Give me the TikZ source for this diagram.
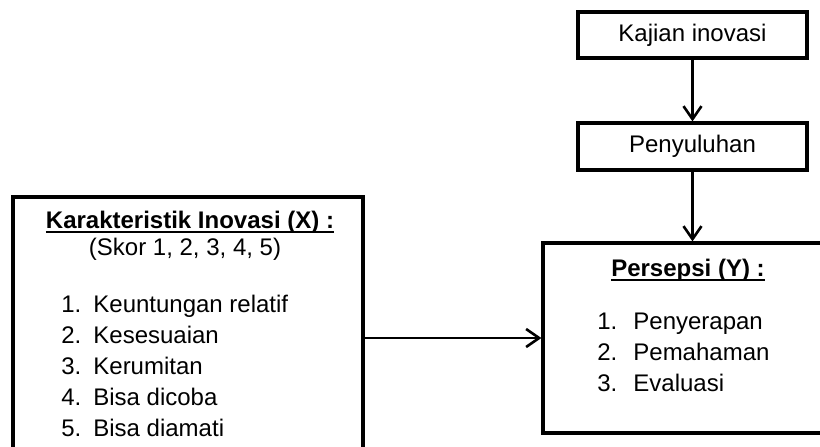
\documentclass[tikz,border=0pt]{standalone}
\usepackage{fontspec}
\setmainfont{Liberation Sans}
\usetikzlibrary{arrows.meta}
% underline sitting just under the baseline
\newcommand{\titleline}[1]{\setbox0\hbox{#1}\rlap{\rule[-2.6pt]{\wd0}{1pt}}\box0}

\begin{document}
\begin{tikzpicture}[x=0.5pt, y=-0.5pt, font=\fontsize{12}{14}\selectfont,
      box/.style={draw, line width=1.6pt, inner sep=0pt},
      link/.style={-{Straight Barb[length=6.5pt, width=9pt]}, line width=1.3pt},
      item/.style={anchor=base west, inner sep=0pt},
      title/.style={anchor=base, inner sep=0pt},
    ]
    \useasboundingbox (0,0) rectangle (820,446);

    % Top chain
    \node[box, minimum width=229pt*0.5, minimum height=46pt*0.5] (kajian) at (692.5,35) {Kajian inovasi};
    \node[box, minimum width=229pt*0.5, minimum height=47pt*0.5] (penyuluhan) at (692.5,146.5) {Penyuluhan};

    % Left: independent variable
    \node[box, minimum width=350pt*0.5, minimum height=255pt*0.5] (karakteristik) at (188,324.5) {};
    \node[title, font=\fontsize{12}{14}\selectfont\bfseries] (kartitle) at (190,228) {\titleline{Karakteristik Inovasi (X) :}};
    \node[title] (skor) at (185,255) {(Skor 1, 2, 3, 4, 5)};
    \foreach \n/\t [count=\i] in {1/Keuntungan relatif, 2/Kesesuaian, 3/Kerumitan, 4/Bisa dicoba, 5/Bisa diamati} {
      \node[item] (xnum\i) at (61,281+31*\i) {\n.};
      \node[item] (xitem\i) at (93,281+31*\i) {\t};
    }

    % Right: dependent variable
    \node[box, minimum width=279pt*0.5, minimum height=190pt*0.5] (persepsi) at (682.5,338) {};
    \node[title, font=\fontsize{12}{14}\selectfont\bfseries] (pertitle) at (688,276) {\titleline{Persepsi (Y) :}};
    \foreach \n/\t [count=\i] in {1/Penyerapan, 2/Pemahaman, 3/Evaluasi} {
      \node[item] (ynum\i) at (597,298+31*\i) {\n.};
      \node[item] (yitem\i) at (633,298+31*\i) {\t};
    }

    % Connectors
    \draw[link] (kajian) -- (penyuluhan);
    \draw[link] (penyuluhan.south) -- (penyuluhan.south |- persepsi.north);
    \draw[link] (karakteristik.east |- persepsi.west) -- (persepsi.west);

  \end{tikzpicture}
\end{document}
